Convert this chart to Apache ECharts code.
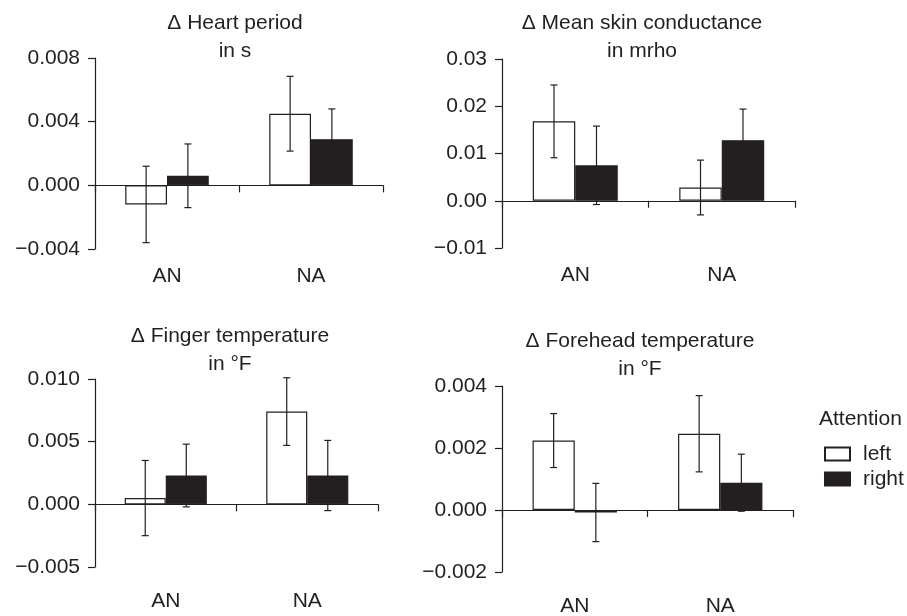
<!DOCTYPE html>
<html><head><meta charset="utf-8">
<script src="https://cdn.jsdelivr.net/npm/echarts@6/dist/echarts.min.js"></script>
<style>html,body{margin:0;padding:0;background:#fff}#c{width:907px;height:616px}</style>
</head><body><div id="c"></div>
<script>
// ---- data ----
const categories = ['AN', 'NA'];
const seriesNames = ['left', 'right'];

const heartLeft = [-0.0012, 0.0045];
const heartLeftErr = [0.0024, 0.00235];
const heartRight = [0.0006, 0.0029];
const heartRightErr = [0.0020, 0.0019];

const skinLeft = [0.0168, 0.0028];
const skinLeftErr = [0.0077, 0.0058];
const skinRight = [0.0075, 0.0128];
const skinRightErr = [0.0083, 0.0066];

const fingerLeft = [0.0005, 0.0074];
const fingerLeftErr = [0.0030, 0.0027];
const fingerRight = [0.0023, 0.0023];
const fingerRightErr = [0.0025, 0.0028];

const foreheadLeft = [0.00224, 0.00246];
const foreheadLeftErr = [0.00087, 0.00123];
const foreheadRight = [-0.00008, 0.00088];
const foreheadRightErr = [0.00094, 0.00092];

const heartTicks = [-0.004, 0.008, 0.004, 3];
const skinTicks = [-0.01, 0.03, 0.01, 2];
const fingerTicks = [-0.005, 0.010, 0.005, 3];
const foreheadTicks = [-0.002, 0.004, 0.002, 3];

const titles = [
  'Δ Heart period\nin s',
  'Δ Mean skin conductance\nin mrho',
  'Δ Finger temperature\nin °F',
  'Δ Forehead temperature\nin °F'
];
const legendTitle = 'Attention';

// ---- layout / style ----
const ink = '#231f20';
const FONT = "'Liberation Sans', Arial, Helvetica, sans-serif";
const FS = 21;

const panels = [
  { left: heartLeft, leftErr: heartLeftErr, right: heartRight, rightErr: heartRightErr, ticks: heartTicks,
    grid: { left: 95, top: 58, width: 288, height: 191 }, xMargin: 17, title: [235, 23] },
  { left: skinLeft, leftErr: skinLeftErr, right: skinRight, rightErr: skinRightErr, ticks: skinTicks,
    grid: { left: 502, top: 59, width: 293, height: 189 }, xMargin: 17, title: [642, 23] },
  { left: fingerLeft, leftErr: fingerLeftErr, right: fingerRight, rightErr: fingerRightErr, ticks: fingerTicks,
    grid: { left: 95, top: 379, width: 283, height: 188 }, xMargin: 24, title: [230, 336] },
  { left: foreheadLeft, leftErr: foreheadLeftErr, right: foreheadRight, rightErr: foreheadRightErr, ticks: foreheadTicks,
    grid: { left: 502, top: 386, width: 291, height: 186 }, xMargin: 24, title: [640, 341] }
];

function fmt(dec) {
  return function (v) {
    const s = Math.abs(v).toFixed(dec);
    return (v < -1e-12 ? '\u2212' : '') + s;
  };
}

function errRender(side) {
  return function (params, api) {
    const ci = api.value(0), m = api.value(1), e = api.value(2);
    const cw = api.size([1, 0])[0];
    const bw = cw * 0.29;
    const c = api.coord([ci, m]);
    const x = c[0] + side * bw / 2;
    const yt = api.coord([ci, m + e])[1];
    const yb = api.coord([ci, m - e])[1];
    const cap = 3.5;
    const st = { stroke: ink, lineWidth: 1.2 };
    return {
      type: 'group', children: [
        { type: 'line', shape: { x1: x, y1: yt, x2: x, y2: yb }, style: st },
        { type: 'line', shape: { x1: x - cap, y1: yt, x2: x + cap, y2: yt }, style: st },
        { type: 'line', shape: { x1: x - cap, y1: yb, x2: x + cap, y2: yb }, style: st }
      ]
    };
  };
}

const grid = [], xAxis = [], yAxis = [], series = [], graphic = [];
panels.forEach((p, i) => {
  grid.push(Object.assign({ outerBoundsMode: 'none', containLabel: false }, p.grid));
  xAxis.push({
    gridIndex: i, type: 'category', data: categories, position: 'bottom',
    axisLine: { show: true, onZero: true, lineStyle: { color: ink, width: 1.2 } },
    axisTick: { show: true, length: 7, lineStyle: { color: ink, width: 1.2 } },
    axisLabel: { show: false }, splitLine: { show: false }
  });
  xAxis.push({
    gridIndex: i, type: 'category', data: categories, position: 'bottom',
    axisLine: { show: false, onZero: false }, axisTick: { show: false },
    axisLabel: { show: true, margin: p.xMargin, color: ink, fontSize: FS, fontFamily: FONT },
    splitLine: { show: false }
  });
  yAxis.push({
    gridIndex: i, type: 'value', min: p.ticks[0], max: p.ticks[1], interval: p.ticks[2],
    axisLine: { show: true, lineStyle: { color: ink, width: 1.2 } },
    axisTick: { show: true, length: 7, lineStyle: { color: ink, width: 1.2 } },
    axisLabel: { show: true, margin: 15, color: ink, fontSize: FS, fontFamily: FONT, formatter: fmt(p.ticks[3]) },
    splitLine: { show: false }
  });
  const xi = i * 2;
  series.push({
    name: 'left', type: 'bar', xAxisIndex: xi, yAxisIndex: i, data: p.left,
    barGap: '0%', barCategoryGap: '42%',
    itemStyle: { color: '#ffffff', borderColor: ink, borderWidth: 1.2 }, z: 2
  });
  series.push({
    name: 'right', type: 'bar', xAxisIndex: xi, yAxisIndex: i, data: p.right,
    barGap: '0%', barCategoryGap: '42%',
    itemStyle: { color: ink, borderColor: ink, borderWidth: 1.2 }, z: 2
  });
  series.push({
    type: 'custom', xAxisIndex: xi, yAxisIndex: i, renderItem: errRender(-1), z: 5,
    encode: { x: 0, y: 1 }, silent: true,
    data: p.left.map((v, k) => [k, v, p.leftErr[k]])
  });
  series.push({
    type: 'custom', xAxisIndex: xi, yAxisIndex: i, renderItem: errRender(1), z: 5,
    encode: { x: 0, y: 1 }, silent: true,
    data: p.right.map((v, k) => [k, v, p.rightErr[k]])
  });
  graphic.push({
    type: 'text', x: p.title[0], y: p.title[1],
    style: { text: titles[i], align: 'center', verticalAlign: 'middle', fill: ink,
      font: FS + 'px ' + FONT, lineHeight: 28 }
  });
});
// fix graphic text vertical: place first line centre at title y
graphic.forEach(g => { g.y = g.y + 14; });
graphic.push({
  type: 'text', x: 819, y: 419,
  style: { text: legendTitle, align: 'left', verticalAlign: 'middle', fill: ink, font: FS + 'px ' + FONT }
});

const option = {
  animation: false,
  backgroundColor: '#ffffff',
  grid, xAxis, yAxis, series, graphic,
  legend: {
    data: seriesNames, orient: 'vertical', left: 824, top: 443,
    icon: 'rect', itemWidth: 25, itemHeight: 13, itemGap: 3, padding: 0,
    textStyle: { color: ink, fontSize: FS, fontFamily: FONT, lineHeight: 22, padding: [0, 0, 0, 8] }
  }
};
const chart = echarts.init(document.getElementById('c'), null, { renderer: 'canvas' });
chart.setOption(option);
</script>
</body></html>
